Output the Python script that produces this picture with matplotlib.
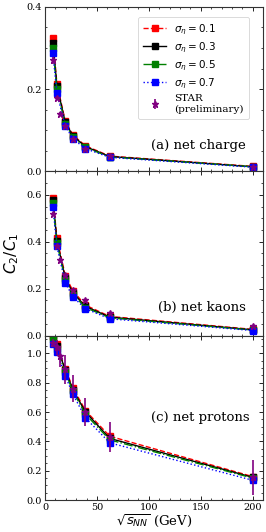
import matplotlib
matplotlib.use("Agg")
import matplotlib.pyplot as plt
from matplotlib.ticker import MultipleLocator

plt.rcParams['font.family'] = ['DejaVu Serif']
plt.rcParams['mathtext.fontset'] = 'dejavusans'

energies = [7.7, 11.5, 19.6, 27, 39, 62.4, 200]
star_energies = [7.7, 11.5, 14.5, 19.6, 27, 39, 62.4, 200]
sigmas = ["0.1", "0.3", "0.5", "0.7"]

charge = {
    "0.1": [0.325, 0.213, 0.122, 0.088, 0.062, 0.037, 0.012],
    "0.3": [0.312, 0.208, 0.119, 0.086, 0.060, 0.036, 0.011],
    "0.5": [0.300, 0.200, 0.115, 0.083, 0.058, 0.035, 0.011],
    "0.7": [0.287, 0.190, 0.110, 0.079, 0.055, 0.034, 0.010],
}
charge_star = [0.270, 0.179, 0.140, 0.110, 0.078, 0.054, 0.037, 0.011]
charge_star_err = [0.008, 0.005, 0.004, 0.003, 0.002, 0.002, 0.001, 0.001]

kaons = {
    "0.1": [0.587, 0.415, 0.255, 0.190, 0.130, 0.082, 0.027],
    "0.3": [0.577, 0.405, 0.245, 0.182, 0.125, 0.079, 0.025],
    "0.5": [0.565, 0.395, 0.237, 0.175, 0.120, 0.076, 0.024],
    "0.7": [0.549, 0.380, 0.225, 0.165, 0.115, 0.072, 0.022],
}
kaons_star = [0.520, 0.383, 0.323, 0.260, 0.196, 0.153, 0.095, 0.040]
kaons_star_err = [0.008, 0.006, 0.005, 0.004, 0.004, 0.003, 0.003, 0.003]

protons = {
    "0.1": [1.12, 1.06, 0.89, 0.765, 0.61, 0.435, 0.160],
    "0.3": [1.11, 1.05, 0.885, 0.750, 0.60, 0.420, 0.155],
    "0.5": [1.10, 1.03, 0.870, 0.740, 0.585, 0.410, 0.150],
    "0.7": [1.06, 1.01, 0.845, 0.720, 0.560, 0.390, 0.135],
}
protons_star = [1.07, 1.04, 0.98, 0.89, 0.76, 0.60, 0.43, 0.155]
protons_star_err = [0.03, 0.05, 0.07, 0.10, 0.09, 0.095, 0.10, 0.12]

styles = {
    "0.1": dict(color="red", ls="--"),
    "0.3": dict(color="black", ls="-"),
    "0.5": dict(color="green", ls="-."),
    "0.7": dict(color="blue", ls=":"),
}

panels = [
    (charge, charge_star, charge_star_err, "(a) net charge", 0.4, (0.92, 0.16)),
    (kaons, kaons_star, kaons_star_err, "(b) net kaons", 0.7, (0.92, 0.17)),
    (protons, protons_star, protons_star_err, "(c) net protons", 1.12, (0.94, 0.50)),
]

fig = plt.figure(figsize=(2.66, 5.32), dpi=100)
fig.subplots_adjust(left=0.169, right=0.989, top=0.987, bottom=0.060, hspace=0)
axes = fig.subplots(3, 1, sharex=True)

for ax, (model, star, err, label, ymax, pos) in zip(axes, panels):
    for s in sigmas:
        ax.plot(energies, model[s], marker="s", ms=4.5, lw=1.0,
                label=r"$\sigma_\eta = %s$" % s, **styles[s])
    ax.errorbar(star_energies, star, yerr=err, fmt="*", color="purple",
                ms=5, elinewidth=1.2, capsize=0, label="STAR\n(preliminary)")
    ax.set_ylim(0, ymax)
    ax.set_xlim(0, 210)
    ax.yaxis.set_major_locator(MultipleLocator(0.2))
    ax.yaxis.set_minor_locator(MultipleLocator(0.05))
    ax.xaxis.set_major_locator(MultipleLocator(50))
    ax.xaxis.set_minor_locator(MultipleLocator(10))
    ax.tick_params(which="both", direction="in", top=True, right=True, labelsize=7, pad=2)
    ax.tick_params(which="major", length=3, width=0.6)
    ax.tick_params(which="minor", length=1.5, width=0.5)
    for sp in ax.spines.values():
        sp.set_linewidth(0.8)
        sp.set_color("#333333")
    ax.text(pos[0], pos[1], label, transform=ax.transAxes, ha="right", va="center", fontsize=9.5)

axes[0].set_yticks([0.0, 0.2, 0.4])
axes[1].set_yticks([0.0, 0.2, 0.4, 0.6])
axes[2].set_yticks([0.0, 0.2, 0.4, 0.6, 0.8, 1.0])

leg = axes[0].legend(loc="upper right", fontsize=7.5, handlelength=2.2,
                     borderpad=0.5, labelspacing=0.35, framealpha=1,
                     bbox_to_anchor=(0.96, 0.97))
leg.get_frame().set_linewidth(0.5)

axes[1].set_ylabel(r"$C_2/C_1$", fontsize=11)
axes[2].set_xlabel(r"$\sqrt{s_{NN}}$ (GeV)", fontsize=9.5, labelpad=0)

fig.savefig("out.png", dpi=100)
